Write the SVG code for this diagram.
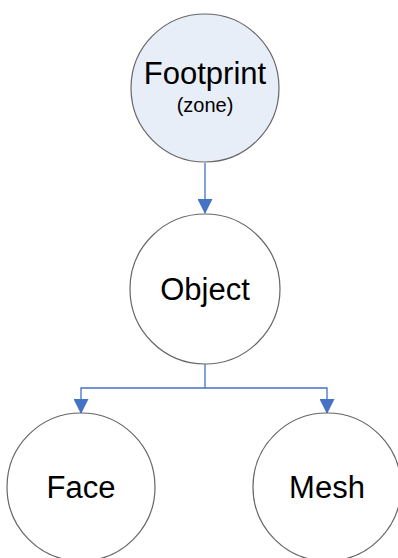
<svg xmlns="http://www.w3.org/2000/svg" width="398" height="558" viewBox="0 0 398 558">
<style>
.n{stroke:#666;stroke-width:1.2;fill:#fff}
.t{font-family:"Liberation Sans",Arial,sans-serif;fill:#000;text-anchor:middle}
.c{stroke:#4472c4;stroke-width:1.3;fill:none}
</style>
<defs>
<marker id="a" markerWidth="15" markerHeight="15" refX="14" refY="7.5" orient="auto" markerUnits="userSpaceOnUse">
<path d="M0,0 L15,7.5 L0,15 Z" fill="#4472c4"/>
</marker>
</defs>
<g id="connectors">
<path class="c" d="M205,163 V213" marker-end="url(#a)"/>
<path class="c" d="M205,364 V388 H81 V413" marker-end="url(#a)"/>
<path class="c" d="M205,388 H327 V413" marker-end="url(#a)"/>
</g>
<g id="footprint">
<circle class="n" cx="205" cy="88" r="74" style="fill:#e8eef8"/>
<text class="t" x="205" y="84" font-size="31">Footprint</text>
<text class="t" x="205" y="112" font-size="20">(zone)</text>
</g>
<g id="object">
<circle class="n" cx="205" cy="289" r="75"/>
<text class="t" x="205" y="300" font-size="31">Object</text>
</g>
<g id="face">
<circle class="n" cx="81" cy="487" r="74"/>
<text class="t" x="81" y="498" font-size="31">Face</text>
</g>
<g id="mesh">
<circle class="n" cx="327" cy="487" r="74"/>
<text class="t" x="327" y="498" font-size="31">Mesh</text>
</g>
</svg>
